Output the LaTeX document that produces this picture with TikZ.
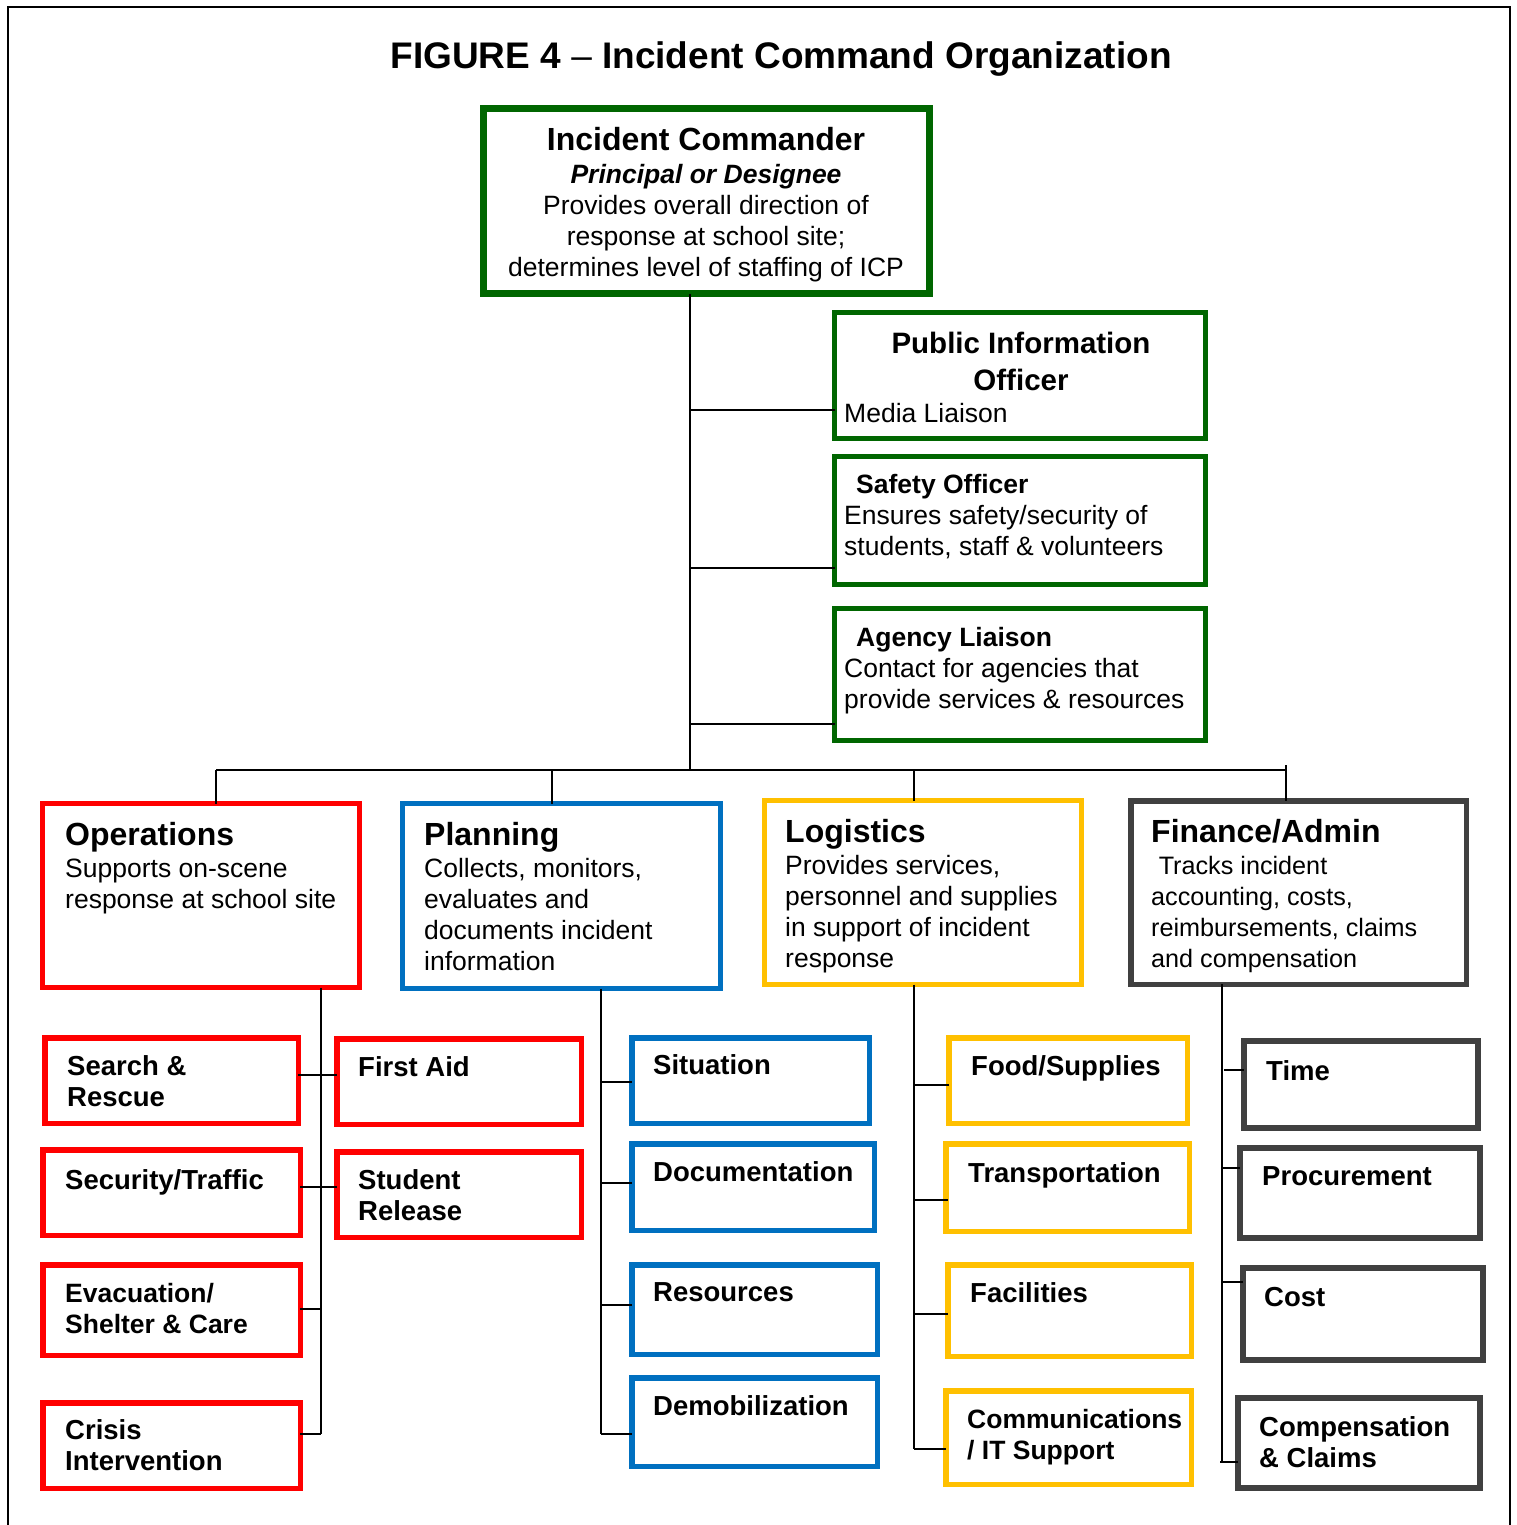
\documentclass[tikz,border=0pt]{standalone}
\usepackage{fontspec}
\setmainfont{Liberation Sans}
\definecolor{icgreen}{RGB}{0,102,0}
\definecolor{icred}{RGB}{255,0,0}
\definecolor{icblue}{RGB}{0,112,192}
\definecolor{icyellow}{RGB}{255,192,0}
\definecolor{icgrey}{RGB}{64,64,64}
\newcommand\mybox[7]{%
  \node[draw=#2, line width=#3pt, inner sep=0pt, outer sep=0pt,
        minimum width={#6-#4-#3}, minimum height={#7-#5-#3}]
        (#1) at ({(#4+#6)/2},{(#5+#7)/2}) {};}
\tikzset{
  conn/.style={line width=1.8pt, black},
  ttl/.style={font=\fontsize{37}{42}\selectfont\bfseries, inner sep=0pt},
  hd/.style={font=\fontsize{32}{36}\selectfont\bfseries, inner sep=0pt},
  bd/.style={font=\fontsize{26.5}{30.7}\selectfont, inner sep=0pt, align=left},
  bdc/.style={font=\fontsize{26.5}{30.7}\selectfont, inner sep=0pt, align=center},
  sm/.style={font=\fontsize{27.5}{31}\selectfont\bfseries, inner sep=0pt, align=left},
  smn/.style={sm, font=\fontsize{26.5}{31}\selectfont\bfseries},
}
\begin{document}
\begin{tikzpicture}[x=1pt,y=-1pt]
\useasboundingbox (0,0) rectangle (1516,1525);
\fill[white] (0,0) rectangle (1516,1525);
% frame
\draw[line width=2.5pt] (8,1525) -- (8,7) -- (1510,7) -- (1510,1525);
% title
\node[ttl, anchor=base] (title) at (781,69) {FIGURE 4 {\mdseries –} Incident Command Organization};

% boxes
\mybox{ic}{icgreen}{7}{480}{105}{933}{297}
\mybox{pio}{icgreen}{5}{832}{310}{1208}{441}
\mybox{saf}{icgreen}{5}{832}{454}{1208}{587}
\mybox{age}{icgreen}{5}{832}{606}{1208}{743}
\mybox{ops}{icred}{5}{40}{801}{362}{990}
\mybox{pla}{icblue}{5}{400}{801}{723}{991}
\mybox{log}{icyellow}{5}{762}{798}{1084}{987}
\mybox{fin}{icgrey}{5.5}{1128}{798}{1469}{987}
\mybox{sar}{icred}{5.5}{42}{1035}{301}{1126}
\mybox{fa}{icred}{5.5}{334}{1036}{584}{1127}
\mybox{sec}{icred}{5.5}{40}{1147}{303}{1238}
\mybox{stu}{icred}{5.5}{334}{1149}{584}{1240}
\mybox{eva}{icred}{5.5}{40}{1262}{303}{1358}
\mybox{cri}{icred}{5.5}{40}{1400}{303}{1491}
\mybox{sit}{icblue}{5.5}{629}{1035}{872}{1126}
\mybox{doc}{icblue}{5.5}{629}{1141}{877}{1233}
\mybox{res}{icblue}{5.5}{629}{1262}{880}{1357}
\mybox{dem}{icblue}{5.5}{629}{1375}{880}{1469}
\mybox{foo}{icyellow}{5.5}{946}{1035}{1190}{1126}
\mybox{tra}{icyellow}{5.5}{943}{1141}{1192}{1234}
\mybox{fac}{icyellow}{5.5}{945}{1262}{1194}{1359}
\mybox{com}{icyellow}{5.5}{943}{1388}{1194}{1487}
\mybox{tim}{icgrey}{6}{1241}{1038}{1481}{1131}
\mybox{pro}{icgrey}{6}{1237}{1145}{1483}{1241}
\mybox{cos}{icgrey}{6}{1240}{1265}{1486}{1363}
\mybox{cmp}{icgrey}{6}{1235}{1395}{1483}{1491}

% connectors (top part)
\coordinate (bus) at (690,770);
\coordinate (b1) at (216,770);
\coordinate (b2) at (552,770);
\coordinate (b3) at (914,770);
\coordinate (b4) at (1286,770);
\draw[conn] (bus |- ic.south) -- (bus);
\draw[conn] (bus |- 0,410) -- (pio.west |- 0,410);
\draw[conn] (bus |- 0,568) -- (saf.west |- 0,568);
\draw[conn] (bus |- 0,724) -- (age.west |- 0,724);
\draw[conn] (b1) -- (b4);
\draw[conn] (b1) -- (b1 |- ops.north);
\draw[conn] (b2) -- (b2 |- pla.north);
\draw[conn] (b3) -- (b3 |- log.north);
\draw[conn] (b4 |- 0,765) -- (b4 |- fin.north);

% operations branch
\coordinate (ov) at (321,1434);
\draw[conn] (ov |- ops.south) -- (ov);
\draw[conn] (sar.east |- 0,1075) -- (fa.west |- 0,1075);
\draw[conn] (sec.east |- 0,1187) -- (stu.west |- 0,1187);
\draw[conn] (eva.east |- 0,1309) -- (ov |- 0,1309);
\draw[conn] (cri.east |- ov) -- (ov);

% planning branch
\coordinate (pv) at (601,1434);
\draw[conn] (pv |- pla.south) -- (pv);
\draw[conn] (pv |- 0,1082) -- (sit.west |- 0,1082);
\draw[conn] (pv |- 0,1183) -- (doc.west |- 0,1183);
\draw[conn] (pv |- 0,1305) -- (res.west |- 0,1305);
\draw[conn] (pv) -- (dem.west |- pv);

% logistics branch
\coordinate (lv) at (914,1449);
\draw[conn] (lv |- log.south) -- (lv);
\draw[conn] (lv |- 0,1085) -- (foo.west |- 0,1085);
\draw[conn] (lv |- 0,1200) -- (948,1200);
\draw[conn] (lv |- 0,1314) -- (fac.west |- 0,1314);
\draw[conn] (lv) -- (com.west |- lv);

% finance branch
\coordinate (fv) at (1222,1462);
\draw[conn] (fv |- fin.south) -- (fv);
\draw[conn] (1224,1070) -- (tim.west |- 0,1070);
\draw[conn] (1222,1168) -- (pro.west |- 0,1168);
\draw[conn] (1222,1282) -- (cos.west |- 0,1282);
\draw[conn] (1220,1462) -- (cmp.west |- fv);

% texts (multi-line nodes: base = last line)
\node[hd, anchor=base] (ic-t) at (706,151) {Incident Commander};
\node[bdc, anchor=base] (ic-s) at (706,184) {\bfseries\itshape Principal or Designee};
\node[bdc, anchor=base] (ic-b) at (706,276) {Provides overall direction of\\response at school site;\\determines level of staffing of ICP};

\node[font=\fontsize{29.5}{37}\selectfont\bfseries, inner sep=0pt, align=center, anchor=base] (pio-t) at (1021,390) {Public Information\\Officer};
\node[bd, anchor=base west] (pio-b) at (844,422) {Media Liaison};

\node[bd, font=\fontsize{26.5}{30.7}\selectfont\bfseries, anchor=base west] (saf-t) at (856,493) {Safety Officer};
\node[bd, anchor=base west] (saf-b) at (844,555) {Ensures safety/security of\\students, staff \& volunteers};

\node[bd, font=\fontsize{26.5}{30.7}\selectfont\bfseries, anchor=base west] (age-t) at (856,646) {Agency Liaison};
\node[bd, anchor=base west] (age-b) at (844,708) {Contact for agencies that\\provide services \& resources};

\node[hd, anchor=base west] (ops-t) at (65,845) {Operations};
\node[bd, anchor=base west] (ops-b) at (65,908) {Supports on-scene\\response at school site};

\node[hd, anchor=base west] (pla-t) at (424,845) {Planning};
\node[bd, anchor=base west] (pla-b) at (424,970) {Collects, monitors,\\evaluates and\\documents incident\\information};

\node[hd, anchor=base west] (log-t) at (785,842) {Logistics};
\node[bd, anchor=base west] (log-b) at (785,967) {Provides services,\\personnel and supplies\\in support of incident\\response};

\node[hd, anchor=base west] (fin-t) at (1151,842) {Finance/Admin};
\node[bd, font=\fontsize{25.2}{30.7}\selectfont, anchor=base west] (fin-b) at (1151,967) {\hspace*{0.3em}Tracks incident\\accounting, costs,\\reimbursements, claims\\and compensation};

\node[sm, anchor=base west] (sar-t) at (67,1106) {Search \&\\Rescue};
\node[sm, anchor=base west] (fa-t) at (358,1076) {First Aid};
\node[sm, anchor=base west] (sec-t) at (65,1189) {Security/Traffic};
\node[sm, anchor=base west] (stu-t) at (358,1220) {Student\\Release};
\node[smn, anchor=base west] (eva-t) at (65,1333) {Evacuation/\\Shelter \& Care};
\node[sm, anchor=base west] (cri-t) at (65,1470) {Crisis\\Intervention};

\node[sm, anchor=base west] (sit-t) at (653,1074) {Situation};
\node[sm, anchor=base west] (doc-t) at (653,1181) {Documentation};
\node[sm, anchor=base west] (res-t) at (653,1301) {Resources};
\node[sm, anchor=base west] (dem-t) at (653,1415) {Demobilization};

\node[sm, anchor=base west] (foo-t) at (971,1075) {Food/Supplies};
\node[sm, anchor=base west] (tra-t) at (968,1182) {Transportation};
\node[sm, anchor=base west] (fac-t) at (970,1302) {Facilities};
\node[smn, anchor=base west] (com-t) at (967,1459) {Communications\\/ IT Support};

\node[sm, anchor=base west] (tim-t) at (1266,1080) {Time};
\node[sm, anchor=base west] (pro-t) at (1262,1185) {Procurement};
\node[sm, anchor=base west] (cos-t) at (1264,1306) {Cost};
\node[sm, anchor=base west] (cmp-t) at (1259,1467) {Compensation\\\& Claims};
\end{tikzpicture}
\end{document}
